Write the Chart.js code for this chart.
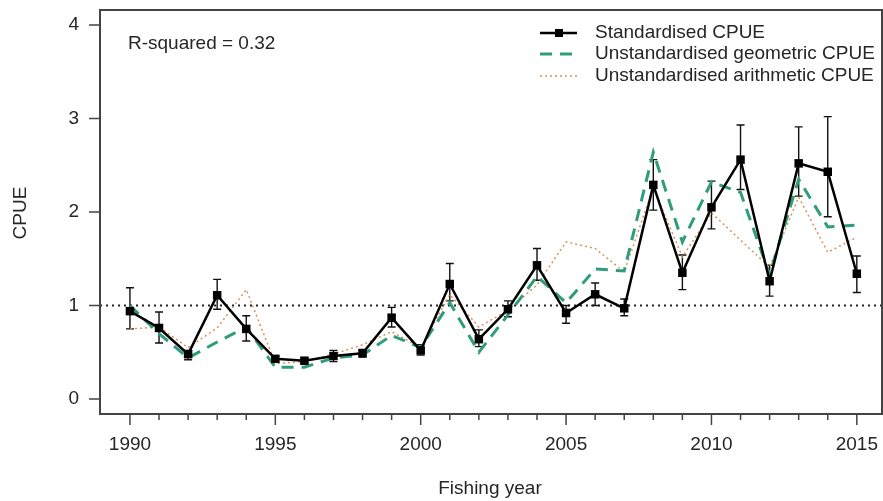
<!DOCTYPE html>
<html>
<head>
<meta charset="utf-8">
<script src="https://cdn.jsdelivr.net/npm/chart.js@4"></script>
<style>
  html, body { margin: 0; padding: 0; background: #fff; overflow: hidden; }
</style>
</head>
<body>
<canvas id="cpue-chart" width="883" height="501"></canvas>
<script>
// Fishing years
const years = [1990, 1991, 1992, 1993, 1994, 1995, 1996, 1997, 1998, 1999, 2000, 2001, 2002,
               2003, 2004, 2005, 2006, 2007, 2008, 2009, 2010, 2011, 2012, 2013, 2014, 2015];

// Standardised CPUE with lower / upper error bar ends
const stdCpue   = [0.94, 0.76, 0.48, 1.11, 0.75, 0.43, 0.41, 0.46, 0.49, 0.87, 0.52, 1.23, 0.64,
                   0.96, 1.43, 0.92, 1.12, 0.97, 2.29, 1.35, 2.05, 2.56, 1.26, 2.52, 2.43, 1.34];
const stdLower  = [0.75, 0.60, 0.42, 0.96, 0.62, 0.40, 0.38, 0.40, 0.45, 0.77, 0.47, 1.05, 0.56,
                   0.88, 1.27, 0.81, 1.00, 0.89, 2.02, 1.17, 1.82, 2.24, 1.10, 2.17, 1.95, 1.14];
const stdUpper  = [1.19, 0.93, 0.52, 1.28, 0.89, 0.46, 0.44, 0.52, 0.53, 0.98, 0.58, 1.45, 0.74,
                   1.05, 1.61, 1.00, 1.24, 1.07, 2.56, 1.54, 2.33, 2.93, 1.43, 2.91, 3.02, 1.53];

// Unstandardised indices
const geoCpue   = [1.00, 0.70, 0.44, 0.61, 0.77, 0.34, 0.34, 0.44, 0.47, 0.68, 0.55, 1.03, 0.50,
                   0.90, 1.31, 1.03, 1.39, 1.37, 2.64, 1.68, 2.32, 2.21, 1.33, 2.35, 1.84, 1.86];
const ariCpue   = [0.75, 0.77, 0.55, 0.76, 1.17, 0.38, 0.40, 0.48, 0.58, 0.72, 0.55, 1.12, 0.77,
                   0.95, 1.22, 1.68, 1.61, 1.36, 2.26, 1.52, 1.99, 1.70, 1.41, 2.16, 1.57, 1.73];

const yTicks = [0, 1, 2, 3, 4];
const majorYears = [1990, 1995, 2000, 2005, 2010, 2015];
const rSquared = 'R-squared = 0.32';

const FONT = '"Liberation Sans", Arial, sans-serif';
const INK = '#262626';
const GEO_COLOR = '#2f9c7c';
const ARI_COLOR = '#d2955a';

function toPoints(values) {
    return years.map((yr, i) => ({ x: yr, y: values[i] }));
}

// fixed box sizes, no extra room for edge labels
function fixBox(size) {
    return scale => {
        if (scale.isHorizontal()) scale.height = size; else scale.width = size;
        scale.paddingLeft = 0;
        scale.paddingRight = 0;
        scale.paddingTop = 0;
        scale.paddingBottom = 0;
    };
}

// Frame, reference line, error bars, ticks, titles, legend
const decorPlugin = {
    id: 'decor',
    beforeDatasetsDraw(chart) {
        const { ctx, chartArea: a, scales: { x, y } } = chart;
        ctx.save();
        // dotted reference line at 1
        ctx.strokeStyle = '#222';
        ctx.lineWidth = 2;
        ctx.setLineDash([2, 4]);
        ctx.beginPath();
        ctx.moveTo(a.left, y.getPixelForValue(1));
        ctx.lineTo(a.right, y.getPixelForValue(1));
        ctx.stroke();
        ctx.setLineDash([]);

        // error bars
        ctx.strokeStyle = '#111';
        ctx.lineWidth = 1.4;
        years.forEach((yr, i) => {
            const px = x.getPixelForValue(yr);
            const lo = y.getPixelForValue(stdLower[i]);
            const hi = y.getPixelForValue(stdUpper[i]);
            ctx.beginPath();
            ctx.moveTo(px, lo); ctx.lineTo(px, hi);
            ctx.moveTo(px - 4, lo); ctx.lineTo(px + 4, lo);
            ctx.moveTo(px - 4, hi); ctx.lineTo(px + 4, hi);
            ctx.stroke();
        });
        ctx.restore();
    },
    afterDraw(chart) {
        const { ctx, chartArea: a, scales: { x, y } } = chart;
        ctx.save();
        // box
        ctx.strokeStyle = '#444';
        ctx.lineWidth = 2;
        ctx.strokeRect(a.left, a.top, a.right - a.left - 1, a.bottom - a.top);

        // tick marks
        ctx.lineWidth = 1.5;
        ctx.beginPath();
        yTicks.forEach(v => {
            const py = y.getPixelForValue(v);
            ctx.moveTo(a.left - 11, py); ctx.lineTo(a.left, py);
        });
        years.forEach(yr => {
            const px = x.getPixelForValue(yr);
            const len = majorYears.includes(yr) ? 11 : 6;
            ctx.moveTo(px, a.bottom); ctx.lineTo(px, a.bottom + len);
        });
        ctx.stroke();

        // axis titles
        ctx.fillStyle = INK;
        ctx.font = '19px ' + FONT;
        ctx.textAlign = 'center';
        ctx.textBaseline = 'middle';
        ctx.fillText('Fishing year', 490, 489);
        ctx.save();
        ctx.translate(21, 213);
        ctx.rotate(-Math.PI / 2);
        ctx.fillText('CPUE', 0, 0);
        ctx.restore();

        // R-squared note
        ctx.textAlign = 'left';
        ctx.fillText(rSquared, 128, 44);

        // legend
        const rows = [
            { label: 'Standardised CPUE', color: '#000', width: 2.5, dash: [], marker: true, y: 33 },
            { label: 'Unstandardised geometric CPUE', color: GEO_COLOR, width: 3, dash: [12, 8], y: 54 },
            { label: 'Unstandardised arithmetic CPUE', color: ARI_COLOR, width: 1.5, dash: [2, 3], y: 76 }
        ];
        rows.forEach(r => {
            ctx.strokeStyle = r.color;
            ctx.lineWidth = r.width;
            ctx.setLineDash(r.dash);
            ctx.beginPath();
            ctx.moveTo(540, r.y); ctx.lineTo(577, r.y);
            ctx.stroke();
            ctx.setLineDash([]);
            if (r.marker) {
                ctx.fillStyle = '#000';
                ctx.fillRect(555, r.y - 4, 8, 8);
            }
            ctx.fillStyle = INK;
            ctx.fillText(r.label, 595, r.y);
        });
        ctx.restore();
    }
};

const ctx = document.getElementById('cpue-chart').getContext('2d');
new Chart(ctx, {
    type: 'line',
    data: {
        datasets: [
            {
                label: 'Standardised CPUE',
                data: toPoints(stdCpue),
                borderColor: '#000',
                backgroundColor: '#000',
                borderWidth: 2.5,
                pointStyle: 'rect',
                pointRadius: 6,
                pointBorderWidth: 0,
                tension: 0
            },
            {
                label: 'Unstandardised geometric CPUE',
                data: toPoints(geoCpue),
                borderColor: GEO_COLOR,
                borderWidth: 3,
                borderDash: [12, 8],
                pointRadius: 0,
                tension: 0
            },
            {
                label: 'Unstandardised arithmetic CPUE',
                data: toPoints(ariCpue),
                borderColor: ARI_COLOR,
                borderWidth: 1.5,
                borderDash: [2, 3],
                pointRadius: 0,
                tension: 0
            }
        ]
    },
    options: {
        responsive: false,
        animation: false,
        layout: { autoPadding: false, padding: { top: 10, right: 0, left: 0, bottom: 0 } },
        plugins: {
            legend: { display: false },
            tooltip: { enabled: false }
        },
        scales: {
            x: {
                type: 'linear',
                min: 1988.97,
                max: 2015.9,
                grid: { display: false, drawTicks: false },
                border: { display: false },
                afterBuildTicks: scale => {
                    scale.ticks = majorYears.map(v => ({ value: v }));
                },
                afterFit: fixBox(87),
                ticks: {
                    padding: 19,
                    maxRotation: 0,
                    autoSkip: false,
                    color: INK,
                    font: { family: FONT, size: 19 },
                    callback: v => String(v)
                }
            },
            y: {
                min: -0.16,
                max: 4.16,
                grid: { display: false, drawTicks: false },
                border: { display: false },
                afterBuildTicks: scale => {
                    scale.ticks = yTicks.map(v => ({ value: v }));
                },
                afterFit: fixBox(100),
                ticks: {
                    padding: 21,
                    color: INK,
                    font: { family: FONT, size: 19 }
                }
            }
        }
    },
    plugins: [decorPlugin]
});
</script>
</body>
</html>
